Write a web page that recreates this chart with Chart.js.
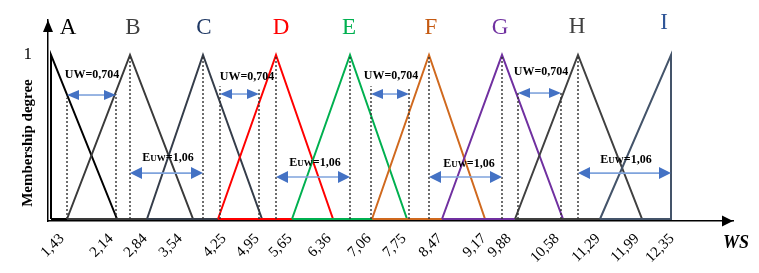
<!DOCTYPE html>
<html><head><meta charset="utf-8">
<script src="https://cdn.jsdelivr.net/npm/chart.js@4/dist/chart.umd.min.js"></script>
<style>html,body{margin:0;padding:0;background:#fff}#wrap{width:759px;height:273px;position:relative}</style>
</head><body><div id="wrap"><canvas id="c"></canvas></div>
<script>
// Fuzzy sets on the (schematic) WS axis: left foot, peak, right foot (position units along the drawn axis)
const setNames   = ['A','B','C','D','E','F','G','H','I'];
const setLeft    = [3, 19, 99, 170, 244, 324, 394, 467, 552];
const setPeak    = [3, 82, 155, 228, 302, 381, 454, 530, 623];
const setRight   = [69, 145, 214, 285, 359, 437, 515, 594, 623];
const lineColors = ['#000000','#3a3a3a','#353d4a','#ff0000','#00b050','#d0691e','#7030a0','#404040','#44546a'];
const nameColors = ['#000000','#404040','#1f3864','#ff0000','#00b050','#c55a11','#7030a0','#404040','#2f5597'];
// Letter positions (x on axis, membership height)
const nameX = [20, 85, 156, 233, 301, 383, 452, 529, 616];
const nameY = [1.165, 1.165, 1.165, 1.165, 1.165, 1.165, 1.165, 1.17, 1.195];

// X axis tick labels and their positions along the axis
const tickLabels = ['1,43','2,14','2,84','3,54','4,25','4,95','5,65','6,36','7,06','7,75','8,47','9,17','9,88','10,58','11,29','11,99','12,35'];
const tickPos    = [14, 63, 97, 132, 176, 209, 242, 281, 321, 356, 392, 436, 461, 509, 550, 589, 624];

// Dotted guide lines: position and top height
const guideX   = [19, 68, 82, 155, 172, 211, 228, 302, 323, 361, 381, 454, 470, 513, 530];
const guideTop = [0.74, 0.76, 1, 1, 0.81, 0.79, 1, 1, 0.81, 0.80, 1, 1, 0.78, 0.78, 1];

// UW arrows (width 0,704)
const uwFrom = [19, 172, 323, 470];
const uwTo   = [68, 211, 361, 513];
const uwY    = [0.756, 0.762, 0.762, 0.768];
const uwLabelX = [44, 199, 343, 493];
const uwLabelY = [0.878, 0.866, 0.872, 0.896];
// EUW arrows (1,06)
const euwFrom = [82, 228, 381, 530];
const euwTo   = [155, 302, 454, 623];
const euwY    = [0.28, 0.256, 0.256, 0.28];
const euwLabelX = [120, 267, 421, 578];
const euwLabelY = [0.378, 0.348, 0.341, 0.366];

const SERIF = '"Liberation Serif", "Times New Roman", serif';

const datasets = [];
setNames.forEach((n, i) => {
  datasets.push({
    label: n,
    data: [{x: setLeft[i], y: 0}, {x: setPeak[i], y: 1}, {x: setRight[i], y: 0}, {x: setLeft[i], y: 0}],
    borderColor: lineColors[i], borderWidth: 2, showLine: true, pointRadius: 0,
    fill: false, tension: 0, borderJoinStyle: 'miter', order: 100 - i
  });
});
guideX.forEach((gx, i) => {
  datasets.push({
    label: 'guide' + i,
    data: [{x: gx, y: 0}, {x: gx, y: guideTop[i]}],
    borderColor: '#303030', borderWidth: 1.4, borderDash: [2, 2], showLine: true,
    pointRadius: 0, fill: false, order: 10
  });
});

function arrow(ctx, xs, ys, x1, x2, y, hl, hw) {
  const p1 = xs.getPixelForValue(x1), p2 = xs.getPixelForValue(x2), py = ys.getPixelForValue(y);
  ctx.save();
  ctx.strokeStyle = '#7fa3dc'; ctx.lineWidth = 1.6;
  ctx.beginPath(); ctx.moveTo(p1 + hl - 1, py); ctx.lineTo(p2 - hl + 1, py); ctx.stroke();
  ctx.fillStyle = '#4472c4';
  ctx.beginPath(); ctx.moveTo(p1, py); ctx.lineTo(p1 + hl, py - hw / 2); ctx.lineTo(p1 + hl, py + hw / 2); ctx.closePath(); ctx.fill();
  ctx.beginPath(); ctx.moveTo(p2, py); ctx.lineTo(p2 - hl, py - hw / 2); ctx.lineTo(p2 - hl, py + hw / 2); ctx.closePath(); ctx.fill();
  ctx.restore();
}

const deco = {
  id: 'deco',
  afterDatasetsDraw(chart) {
    const ctx = chart.ctx, xs = chart.scales.x, ys = chart.scales.y, a = chart.chartArea;
    uwFrom.forEach((f, i) => arrow(ctx, xs, ys, f, uwTo[i], uwY[i], 12, 10));
    euwFrom.forEach((f, i) => arrow(ctx, xs, ys, f, euwTo[i], euwY[i], 12, 12));
    ctx.save();
    ctx.fillStyle = '#000';
    ctx.textBaseline = 'middle';
    ctx.font = 'bold 12px ' + SERIF;
    ctx.textAlign = 'center';
    uwLabelX.forEach((x, i) => ctx.fillText('UW=0,704', xs.getPixelForValue(x), ys.getPixelForValue(uwLabelY[i])));
    euwLabelX.forEach((x, i) => {
      const cx = xs.getPixelForValue(x), cy = ys.getPixelForValue(euwLabelY[i]);
      ctx.font = 'bold 12px ' + SERIF; const wE = ctx.measureText('E').width, wR = ctx.measureText('=1,06').width;
      ctx.font = 'bold 9px ' + SERIF; const wU = ctx.measureText('UW').width;
      let x0 = cx - (wE + wU + wR) / 2;
      ctx.textAlign = 'left'; ctx.textBaseline = 'alphabetic';
      const base = cy + 4;
      ctx.font = 'bold 12px ' + SERIF; ctx.fillText('E', x0, base); x0 += wE;
      ctx.font = 'bold 9px ' + SERIF; ctx.fillText('UW', x0, base); x0 += wU;
      ctx.font = 'bold 12px ' + SERIF; ctx.fillText('=1,06', x0, base);
    });
    ctx.textAlign = 'center'; ctx.textBaseline = 'middle';
    ctx.font = '23px ' + SERIF;
    setNames.forEach((n, i) => {
      ctx.fillStyle = nameColors[i];
      ctx.fillText(n, xs.getPixelForValue(nameX[i]), ys.getPixelForValue(nameY[i]));
    });
    ctx.fillStyle = '#000';
    ctx.beginPath(); ctx.moveTo(a.left, a.top); ctx.lineTo(a.left - 5, a.top + 12); ctx.lineTo(a.left + 5, a.top + 12); ctx.closePath(); ctx.fill();
    ctx.beginPath(); ctx.moveTo(a.right, a.bottom); ctx.lineTo(a.right - 11, a.bottom - 5.5); ctx.lineTo(a.right - 11, a.bottom + 5.5); ctx.closePath(); ctx.fill();
    ctx.font = 'bold italic 18px ' + SERIF;
    ctx.fillText('WS', a.right + 3, a.bottom + 22);
    ctx.save();
    ctx.translate(a.left - 20, ys.getPixelForValue(0.463));
    ctx.rotate(-Math.PI / 2);
    ctx.font = 'bold 15px ' + SERIF;
    ctx.fillText('Membership degree', 0, 0);
    ctx.restore();
    ctx.restore();
  }
};

new Chart(document.getElementById('c'), {
  type: 'scatter',
  data: { datasets },
  options: {
    responsive: true, maintainAspectRatio: false, animation: false,
    layout: { padding: { left: 0, top: 20, right: 26, bottom: 0 } },
    plugins: { legend: { display: false }, tooltip: { enabled: false } },
    scales: {
      x: {
        type: 'linear', min: 0, max: 685,
        grid: { display: false },
        border: { display: true, color: '#000', width: 1.5 },
        afterBuildTicks: (s) => { s.ticks = tickPos.map(v => ({ value: v })); },
        afterFit: (s) => { s.height = 52; },
        ticks: {
          autoSkip: false, minRotation: 45, maxRotation: 45, padding: 1,
          color: '#000', font: { family: SERIF, size: 15 },
          callback: (v, i) => tickLabels[i]
        }
      },
      y: {
        type: 'linear', min: -0.0122, max: 1.2134,
        grid: { display: false },
        border: { display: true, color: '#000', width: 1.5 },
        afterBuildTicks: (s) => { s.ticks = [{ value: 1 }]; },
        afterFit: (s) => { s.width = 48; },
        ticks: { padding: 8, color: '#000', font: { family: SERIF, size: 17 }, callback: () => '1' }
      }
    }
  },
  plugins: [deco]
});
</script></body></html>
